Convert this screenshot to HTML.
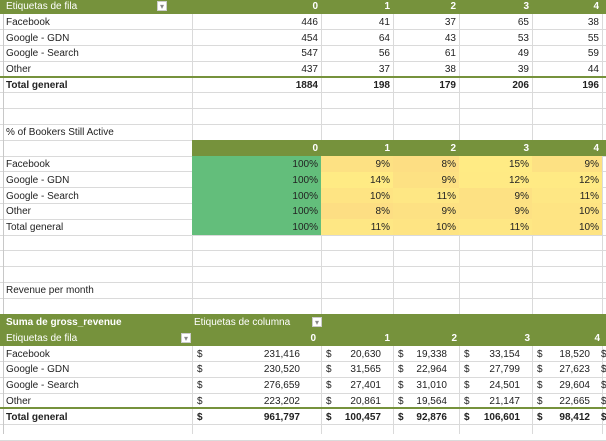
<!DOCTYPE html>
<html><head><meta charset="utf-8">
<style>
body{margin:0;width:606px;height:434px;overflow:hidden;background:#fff;font-family:"Liberation Sans",sans-serif;font-size:10px;color:#222;}
#sheet{position:relative;width:606px;height:434px;}
.c{position:absolute;box-sizing:border-box;white-space:nowrap;line-height:15.8px;height:15.8px;overflow:visible;}
.hl{position:absolute;height:1px;background:#dadada;}
.vl{position:absolute;width:1px;background:#dadada;}
.hdr{position:absolute;background:#76923c;}
.w{color:#fff;}
.b{font-weight:bold;}
</style></head><body>
<div id="sheet"></div>
<script>
const categories = ["Facebook","Google - GDN","Google - Search","Other"];
const months = ["0","1","2","3","4"];
const countFacebook = [446,41,37,65,38];
const countGDN = [454,64,43,53,55];
const countSearch = [547,56,61,49,59];
const countOther = [437,37,38,39,44];
const countTotal = [1884,198,179,206,196];
const pctFacebook = [100,9,8,15,9];
const pctGDN = [100,14,9,12,12];
const pctSearch = [100,10,11,9,11];
const pctOther = [100,8,9,9,10];
const pctTotal = [100,11,10,11,10];
const revFacebook = [231416,20630,19338,33154,18520];
const revGDN = [230520,31565,22964,27799,27623];
const revSearch = [276659,27401,31010,24501,29604];
const revOther = [223202,20861,19564,21147,22665];
const revTotal = [961797,100457,92876,106601,98412];

const S = document.getElementById('sheet');
const colX = [4,192,321,393,459,532,602,640];
const RH = 15.8, TOP = -2;
const rowY = i => TOP + RH*i;
function el(cls, name, x, y, w, h, txt, style){
  const d = document.createElement('div');
  d.className = cls;
  
  
  d.style.left = x+'px'; d.style.top = y+'px';
  if(w!=null) d.style.width = w+'px';
  if(h!=null) d.style.height = h+'px';
  if(txt!=null) d.textContent = txt;
  if(style) d.style.cssText += style;
  S.appendChild(d);
  return d;
}
for(let i=0;i<29;i++){ el('hl','gridline-row',0,rowY(i)-0.5,606,null); }
for(let j=1;j<colX.length-1;j++){ el('vl','gridline-col',colX[j],0,null,434); }
el('vl','row-header-edge',3,0,null,434,null,'background:#c8c8c8;');

function fmt(n){return n.toLocaleString('en-US');}
function txt(name,col,row,t,opts){
  opts=opts||{};
  const x0=colX[col], x1=colX[col+1];
  const d=el('c '+(opts.cls||''),name,x0+2,rowY(row)+1,x1-x0-5,null,t,opts.style||'');
  if(opts.right) d.style.textAlign='right';
  return d;
}
function dropdown(name,x,y){
  const d=el('c',name,x,y+3,10,10,'▾','background:#fff;color:#888;font-size:8px;line-height:10px;text-align:center;border:1px solid #ccc;height:10px;');
  
}
el('hdr','count-table-header',0,rowY(0),606,RH);
txt('row-labels-header',0,0,'Etiquetas de fila',{cls:'w'});
dropdown('row-filter-dropdown',157,rowY(0));
months.forEach((m,j)=>txt('count-col-'+m,j+1,0,m,{cls:'w b',right:true}));
const countRows=[countFacebook,countGDN,countSearch,countOther];
categories.forEach((c,i)=>{
  txt('count-row-label',0,i+1,c);
  countRows[i].forEach((v,j)=>txt('count-cell',j+1,i+1,String(v),{right:true}));
});
el('hdr','count-total-border',0,rowY(5)-1.5,606,2);
txt('count-total-label',0,5,'Total general',{cls:'b'});
countTotal.forEach((v,j)=>txt('count-total-cell',j+1,5,String(v),{cls:'b',right:true}));

txt('pct-title',0,8,'% of Bookers Still Active',{style:'width:200px'});
el('hdr','pct-table-header',colX[1],rowY(9),606-colX[1],RH);
months.forEach((m,j)=>txt('pct-col-'+m,j+1,9,m,{cls:'w b',right:true}));
const pctRows=[pctFacebook,pctGDN,pctSearch,pctOther,pctTotal];
const allSmall=[].concat(...pctRows.map(r=>r.slice(1)));
const pmin=Math.min(...allSmall), pmax=Math.max(...allSmall);
function heat(v){
  if(v>=100) return '#63be7b';
  const t=Math.min(1,(v-pmin)/Math.max(1,(pmax-pmin))*1.6);
  const a=[253,222,131], b=[255,235,132];
  return 'rgb('+a.map((x,k)=>Math.round(x+(b[k]-x)*t)).join(',')+')';
}
const pctLabels=categories.concat(['Total general']);
pctLabels.forEach((c,i)=>{
  txt('pct-row-label',0,10+i,c);
  pctRows[i].forEach((v,j)=>{
    el('c','heat-cell-bg',colX[j+1],rowY(10+i),colX[j+2]-colX[j+1],RH+0.5,null,'background:'+heat(v)+';');
    txt('pct-cell',j+1,10+i,v+'%',{right:true});
  });
});

txt('revenue-title',0,18,'Revenue per month');
el('hdr','revenue-table-header',0,rowY(20),606,RH*2);
txt('revenue-measure-label',0,20,'Suma de gross_revenue',{cls:'w b'});
txt('column-labels-header',1,20,'Etiquetas de columna',{cls:'w',style:'width:140px'});
dropdown('column-filter-dropdown',312,rowY(20));
txt('revenue-row-labels-header',0,21,'Etiquetas de fila',{cls:'w'});
dropdown('revenue-row-filter-dropdown',181,rowY(21));
const revHdrX=[318,392,459,532,602];
months.forEach((m,j)=>el('c w b','revenue-col-'+m,revHdrX[j]-20,rowY(21)+1,18,null,m,'text-align:right;'));
const revRows=[revFacebook,revGDN,revSearch,revOther];
function revCell(name,j,row,v,bold){
  const x0=colX[j+1], x1=colX[j+2];
  el('c'+(bold?' b':''),name+'-currency',x0+5,rowY(row)+1,10,null,'$');
  const right=(j===0)?300:x1-12;
  el('c'+(bold?' b':''),name,right-70,rowY(row)+1,70,null,fmt(v),'text-align:right;');
}
categories.forEach((c,i)=>{
  txt('revenue-row-label',0,22+i,c);
  revRows[i].forEach((v,j)=>revCell('revenue-cell',j,22+i,v,false));
  el('c','revenue-cell-overflow',colX[6]-1,rowY(22+i)+1,10,null,'$');
});
el('hdr','revenue-total-border',0,rowY(26)-1.5,606,2);
txt('revenue-total-label',0,26,'Total general',{cls:'b'});
revTotal.forEach((v,j)=>revCell('revenue-total-cell',j,26,v,true));
el('c b','revenue-total-overflow',colX[6]-1,rowY(26)+1,10,null,'$');
</script>
</body></html>
